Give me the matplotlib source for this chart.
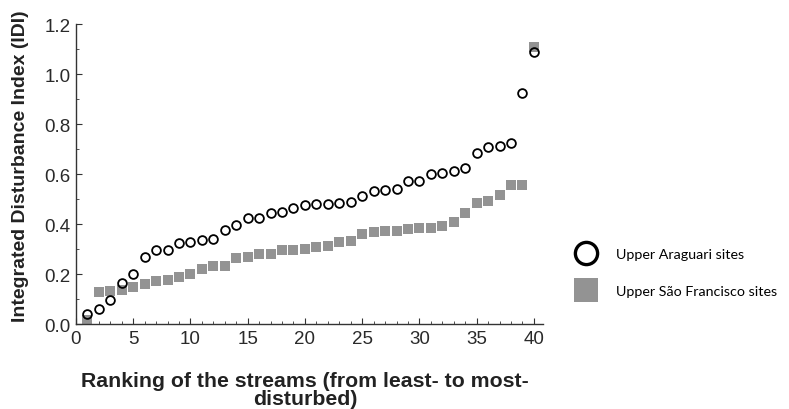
import numpy as np
import matplotlib
matplotlib.use("Agg")
import matplotlib.pyplot as plt
from matplotlib.lines import Line2D
from matplotlib.ticker import MultipleLocator, FormatStrFormatter

# Ranks of the streams
rank = list(range(1, 41))

# Upper Araguari sites (open circles)
araguari = [0.04, 0.06, 0.096, 0.164, 0.20, 0.267, 0.297, 0.297, 0.323, 0.329,
            0.337, 0.34, 0.375, 0.396, 0.423, 0.423, 0.443, 0.447, 0.465, 0.475,
            0.479, 0.479, 0.484, 0.489, 0.511, 0.532, 0.535, 0.54, 0.572, 0.573,
            0.60, 0.603, 0.613, 0.623, 0.684, 0.709, 0.713, 0.724, 0.926, 1.089]

# Upper Sao Francisco sites (grey squares)
sao_francisco = [0.015, 0.127, 0.132, 0.137, 0.147, 0.16, 0.171, 0.176, 0.188, 0.202,
                 0.22, 0.233, 0.233, 0.263, 0.267, 0.28, 0.28, 0.296, 0.296, 0.30,
                 0.307, 0.311, 0.327, 0.333, 0.36, 0.369, 0.373, 0.373, 0.38, 0.383,
                 0.383, 0.393, 0.407, 0.443, 0.484, 0.493, 0.516, 0.557, 0.557, 1.11]

legend_labels = ['Upper Araguari sites', 'Upper São Francisco sites']

grey = '#939393'

plt.rcParams['font.family'] = ['Liberation Sans', 'DejaVu Sans']

fig = plt.figure(figsize=(7.89, 4.10), dpi=100)
ax = fig.add_axes([0.0963, 0.207, 0.592, 0.732])

ax.plot(rank, sao_francisco, 's', color=grey, markersize=7, markeredgewidth=0)
ax.plot(rank, araguari, 'o', markerfacecolor='none', markeredgecolor='black',
        markersize=6.3, markeredgewidth=1.3)

ax.set_xlim(0, 40.8)
ax.set_ylim(0, 1.2)
ax.xaxis.set_major_locator(MultipleLocator(5))
ax.xaxis.set_minor_locator(MultipleLocator(1))
ax.yaxis.set_major_locator(MultipleLocator(0.2))
ax.yaxis.set_minor_locator(MultipleLocator(0.1))
ax.yaxis.set_major_formatter(FormatStrFormatter('%.1f'))

for side in ['top', 'right']:
    ax.spines[side].set_visible(False)
for side in ['left', 'bottom']:
    ax.spines[side].set_color('#333333')
    ax.spines[side].set_linewidth(1.0)

ax.tick_params(which='both', direction='in', colors='#333333', labelcolor='#2a2a2a', labelsize=13.5)
ax.tick_params(which='major', length=4, pad=4)
ax.tick_params(which='minor', length=2.5)

ax.set_ylabel('Integrated Disturbance Index (IDI)', fontsize=14, fontweight='bold', color='#222222')
ax.yaxis.set_label_coords(-0.10, 0.53)
ax.set_xlabel('Ranking of the streams (from least- to most-\ndisturbed)', fontsize=15.3,
              fontweight='bold', linespacing=0.95, color='#222222')
ax.xaxis.set_label_coords(0.49, -0.155)

# legend sits outside the axes on the right
handles = [
    Line2D([], [], marker='o', linestyle='none', markerfacecolor='none',
           markeredgecolor='black', markersize=16, markeredgewidth=2.4),
    Line2D([], [], marker='s', linestyle='none', color=grey, markersize=17, markeredgewidth=0),
]
fig.legend(handles, legend_labels,
           loc='center left', bbox_to_anchor=(0.717, 0.332), frameon=False,
           prop={'family': 'Lato', 'size': 10.3}, labelspacing=1.75, handletextpad=1.1,
           borderaxespad=0)

fig.savefig('out.png', dpi=100)
